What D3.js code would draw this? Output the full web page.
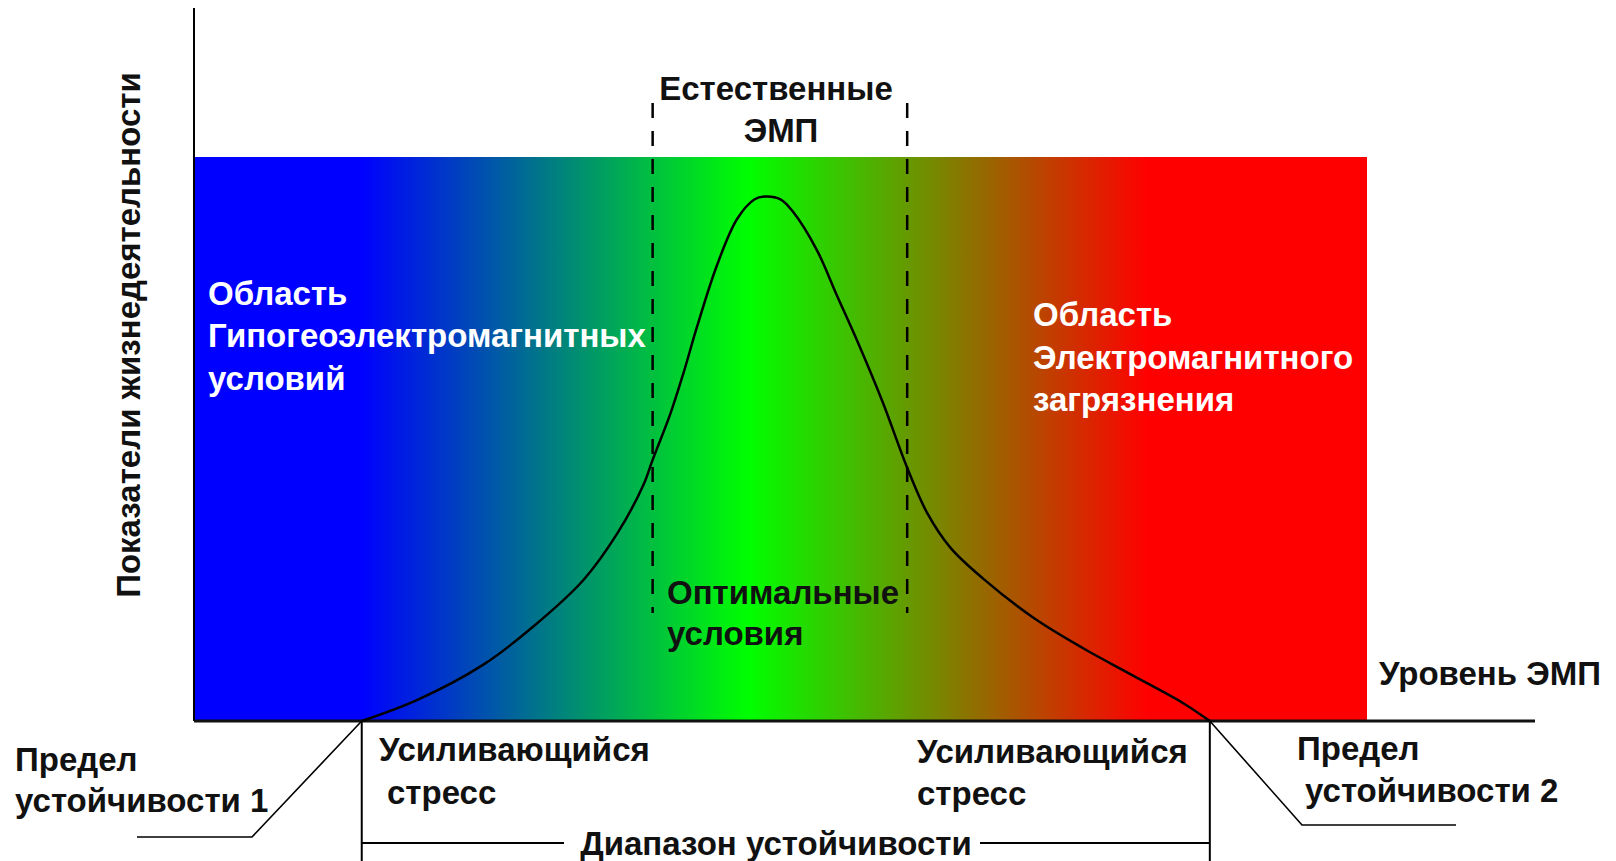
<!DOCTYPE html>
<html>
<head>
<meta charset="utf-8">
<script src="https://cdn.jsdelivr.net/npm/d3@7"></script>
<style>
  body { margin: 0; background: #fff; }
  text { font-family: "Liberation Sans", Arial, sans-serif; font-weight: bold; }
</style>
</head>
<body>
<div id="viz"></div>
<script>
const width = 1616;
const height = 861;

// EMF level (0..100) and viability (0..100)
const empLevel  = [14.3, 19.0, 24.6, 28.9, 33.2, 36.1, 38.3, 39.1, 40.6, 41.7, 42.9, 44.6, 46.3, 47.8, 48.7, 50.0, 51.1, 53.1, 54.8, 56.5, 58.7, 60.8, 62.5, 64.5, 67.3, 71.5, 75.8, 80.1, 84.3, 86.6];
const viability = [0,    3.7,  9.9,  16.7, 25.0, 33.3, 41.8, 46.3, 54.4, 61.5, 70.0, 80.9, 89.0, 92.5, 93.0, 92.5, 90.2, 83.5, 75.5, 67.6, 56.6, 44.9, 36.9, 30.7, 25.2, 18.4, 12.9, 8.0,  3.2,  0];

const naturalRange = [39.1, 60.8];      // "Естественные ЭМП"
const stabilityLimits = [14.3, 86.6];   // Предел устойчивости 1 / 2
const gradientStops = [
    { offset: 14.2, color: "#0000ff" },
    { offset: 47.3, color: "#00ff00" },
    { offset: 81.3, color: "#ff0000" }
];

const svg = d3.select("#viz")
    .append("svg")
    .attr("width", width)
    .attr("height", height);

const x = d3.scaleLinear().domain([0, 100]).range([194, 1367]);
const y = d3.scaleLinear().domain([0, 100]).range([721, 157]);

const data = empLevel.map((e, i) => ({ e: e, v: viability[i] }));

// background gradient
const defs = svg.append("defs");
const grad = defs.append("linearGradient")
    .attr("id", "bg")
    .attr("gradientUnits", "userSpaceOnUse")
    .attr("x1", x(0)).attr("x2", x(100))
    .attr("y1", 0).attr("y2", 0);
grad.selectAll("stop")
    .data(gradientStops)
    .enter()
    .append("stop")
    .attr("offset", d => d.offset + "%")
    .attr("stop-color", d => d.color);

svg.append("rect")
    .attr("x", x(0))
    .attr("y", y(100))
    .attr("width", x(100) - x(0))
    .attr("height", y(0) - y(100))
    .attr("fill", "url(#bg)");

// axes (plain lines, no ticks)
svg.append("line")
    .attr("x1", x(0)).attr("x2", x(0))
    .attr("y1", y(0)).attr("y2", 8)
    .attr("stroke", "#000").attr("stroke-width", 2);
svg.append("line")
    .attr("x1", x(0)).attr("x2", 1535)
    .attr("y1", y(0)).attr("y2", y(0))
    .attr("stroke", "#111").attr("stroke-width", 3);

// natural EMF dashed borders
svg.selectAll(".natural")
    .data(naturalRange)
    .enter()
    .append("line")
    .attr("class", "natural")
    .attr("x1", d => x(d)).attr("x2", d => x(d))
    .attr("y1", 103).attr("y2", 613)
    .attr("stroke", "#000")
    .attr("stroke-width", 2.5)
    .attr("stroke-dasharray", "15,13");

// the curve
const line = d3.line()
    .x(d => x(d.e))
    .y(d => y(d.v))
    .curve(d3.curveCatmullRom.alpha(0.5));

svg.append("path")
    .attr("d", line(data))
    .attr("fill", "none")
    .attr("stroke", "#000")
    .attr("stroke-width", 2.5);

// stability range brackets
svg.selectAll(".limit")
    .data(stabilityLimits)
    .enter()
    .append("line")
    .attr("class", "limit")
    .attr("x1", d => x(d)).attr("x2", d => x(d))
    .attr("y1", y(0)).attr("y2", height)
    .attr("stroke", "#000").attr("stroke-width", 2);

svg.append("line")
    .attr("x1", x(stabilityLimits[0])).attr("x2", 564)
    .attr("y1", 843).attr("y2", 843)
    .attr("stroke", "#000").attr("stroke-width", 2);
svg.append("line")
    .attr("x1", 980).attr("x2", x(stabilityLimits[1]))
    .attr("y1", 843).attr("y2", 843)
    .attr("stroke", "#000").attr("stroke-width", 2);

// leader lines to limit labels
svg.append("polyline")
    .attr("points", `${x(stabilityLimits[0])},${y(0)} 252,837 137,837`)
    .attr("fill", "none").attr("stroke", "#000").attr("stroke-width", 1.6);
svg.append("polyline")
    .attr("points", `${x(stabilityLimits[1])},${y(0)} 1302,825 1456,825`)
    .attr("fill", "none").attr("stroke", "#000").attr("stroke-width", 1.6);

// labels
const fs = 33;
const labels = [
    { t: "Естественные", x: 776, y: 100, a: "middle", c: "#111" },
    { t: "ЭМП", x: 781, y: 142, a: "middle", c: "#111" },
    { t: "Область", x: 208, y: 305, a: "start", c: "#fff" },
    { t: "Гипогеоэлектромагнитных", x: 208, y: 347, a: "start", c: "#fff" },
    { t: "условий", x: 208, y: 390, a: "start", c: "#fff" },
    { t: "Область", x: 1033, y: 326, a: "start", c: "#fff" },
    { t: "Электромагнитного", x: 1033, y: 369, a: "start", c: "#fff" },
    { t: "загрязнения", x: 1033, y: 411, a: "start", c: "#fff" },
    { t: "Оптимальные", x: 667, y: 604, a: "start", c: "#111" },
    { t: "условия", x: 667, y: 645, a: "start", c: "#111" },
    { t: "Уровень ЭМП", x: 1379, y: 685, a: "start", c: "#111" },
    { t: "Предел", x: 15, y: 771, a: "start", c: "#111" },
    { t: "устойчивости 1", x: 15, y: 812, a: "start", c: "#111" },
    { t: "Усиливающийся", x: 379, y: 761, a: "start", c: "#111" },
    { t: "стресс", x: 387, y: 804, a: "start", c: "#111" },
    { t: "Усиливающийся", x: 917, y: 763, a: "start", c: "#111" },
    { t: "стресс", x: 917, y: 805, a: "start", c: "#111" },
    { t: "Предел", x: 1297, y: 760, a: "start", c: "#111" },
    { t: "устойчивости 2", x: 1305, y: 802, a: "start", c: "#111" },
    { t: "Диапазон устойчивости", x: 776, y: 855, a: "middle", c: "#111" }
];

svg.selectAll(".lbl")
    .data(labels)
    .enter()
    .append("text")
    .attr("class", "lbl")
    .attr("x", d => d.x)
    .attr("y", d => d.y)
    .attr("text-anchor", d => d.a)
    .attr("fill", d => d.c)
    .attr("font-size", fs)
    .text(d => d.t);

svg.append("text")
    .attr("transform", "translate(140, 335) rotate(-90)")
    .attr("text-anchor", "middle")
    .attr("fill", "#111")
    .attr("font-size", fs)
    .text("Показатели жизнедеятельности");
</script>
</body>
</html>
